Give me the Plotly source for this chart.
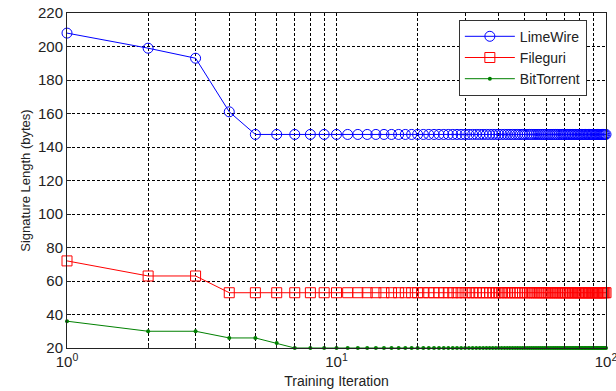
import plotly.graph_objects as go

iterations = list(range(1, 101))
limewire_head = [208, 199, 193, 161]
limewire_tail = 147.5
fileguri_head = [72, 63, 63]
fileguri_tail = 53
bittorrent_head = [36, 30, 30, 26, 26, 23]
bittorrent_tail = 20

limewire = limewire_head + [limewire_tail] * (len(iterations) - len(limewire_head))
fileguri = fileguri_head + [fileguri_tail] * (len(iterations) - len(fileguri_head))
bittorrent = bittorrent_head + [bittorrent_tail] * (len(iterations) - len(bittorrent_head))

x_major = [1, 10, 100]
x_major_text = ["10<sup>0</sup>", "10<sup>1</sup>", "10<sup>2</sup>"]
x_minor = [2, 3, 4, 5, 6, 7, 8, 9, 20, 30, 40, 50, 60, 70, 80, 90]
y_ticks = list(range(20, 221, 20))

font_family = "Liberation Sans, Arial, sans-serif"
text_color = "#222222"
grid_dash = "3px,2px"

fig = go.Figure()
fig.add_trace(go.Scatter(x=iterations, y=limewire, name="LimeWire", mode="lines+markers",
                         line=dict(color="#0000ff", width=1), cliponaxis=False,
                         marker=dict(symbol="circle-open", size=10, color="#0000ff", line=dict(width=1))))
fig.add_trace(go.Scatter(x=iterations, y=fileguri, name="Fileguri", mode="lines+markers",
                         line=dict(color="#ff0000", width=1), cliponaxis=False,
                         marker=dict(symbol="square-open", size=10, color="#ff0000", line=dict(width=1))))
fig.add_trace(go.Scatter(x=iterations, y=bittorrent, name="BitTorrent", mode="lines+markers",
                         line=dict(color="#008000", width=1), cliponaxis=False,
                         marker=dict(symbol="circle", size=4, color="#008000")))

fig.update_layout(
    width=616, height=391,
    margin=dict(l=67, r=10, t=13, b=43, autoexpand=False),
    paper_bgcolor="white", plot_bgcolor="white",
    font=dict(family=font_family, size=13, color=text_color),
    legend=dict(x=0.727, y=0.98, xanchor="left", yanchor="top",
                bgcolor="white", bordercolor="#333333", borderwidth=1,
                font=dict(size=14, color=text_color), itemwidth=50,
                tracegroupgap=0),
    showlegend=True,
)
fig.update_xaxes(
    type="log", range=[0, 2], automargin=False, ticklabeloverflow="allow",
    tickmode="array", tickvals=x_major, ticktext=x_major_text,
    showgrid=True, gridcolor="black", griddash=grid_dash, gridwidth=1,
    minor=dict(tickmode="array", tickvals=x_minor, showgrid=True, gridcolor="black",
               griddash=grid_dash, gridwidth=1, ticks="inside", ticklen=3, tickcolor="#222222"),
    showline=True, linecolor="#222222", linewidth=1, mirror=True,
    ticks="inside", ticklen=4, tickcolor="#222222",
    tickfont=dict(size=15, color=text_color),
    title=dict(text="Training Iteration", font=dict(size=14, color=text_color), standoff=7),
    zeroline=False,
)
fig.update_yaxes(
    range=[20, 220], tickvals=y_ticks, automargin=False,
    showgrid=True, gridcolor="black", griddash=grid_dash, gridwidth=1,
    showline=True, linecolor="#222222", linewidth=1, mirror=True,
    ticks="inside", ticklen=4, tickcolor="#222222",
    tickfont=dict(size=15, color=text_color),
    title=dict(text="Signature Length (bytes)", font=dict(size=13, color=text_color), standoff=4),
    zeroline=False,
)

fig.write_html("out.html", config={"displayModeBar": False},
               post_script="document.body.style.margin='0';document.body.style.overflow='hidden';")
